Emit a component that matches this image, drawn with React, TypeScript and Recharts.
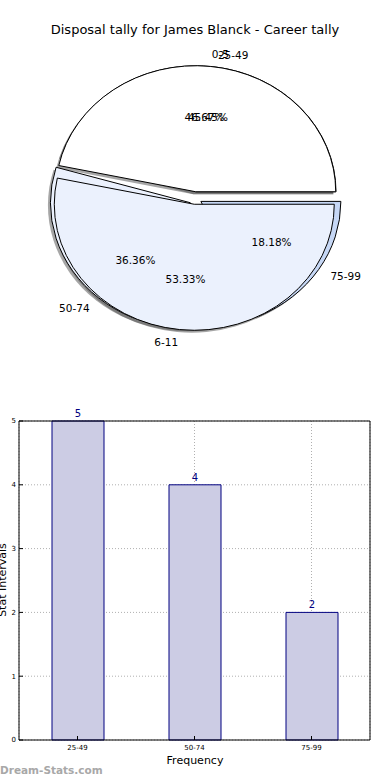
import React from 'react';
import { PieChart, Pie, Cell, BarChart, Bar, XAxis, YAxis, CartesianGrid, LabelList } from 'recharts';

// two tallies share the one pie, the second one is also the bar chart
const innerRanges = ['0-5', '6-11'];
const innerCounts = [7, 8];
const outerRanges = ['25-49', '50-74', '75-99'];
const outerCounts = [5, 4, 2];
const yTicks = [0, 1, 2, 3, 4, 5];

const innerColors = ['#ffffff', '#ebf1fd'];
const outerColors = ['#ffffff', '#ebf1fd', '#c6d7f5'];

const innerData = innerRanges.map((range, i) => ({ range, count: innerCounts[i] }));
const outerData = outerRanges.map((range, i) => ({ range, count: outerCounts[i] }));

const FONT = '"DejaVu Sans", sans-serif';
const CX = 195;
const CY = 198;
const RX = 140;
const RY = 126;
const EXPLODE = 0.05;
const RAD = Math.PI / 180;

// matplotlib squashes the pie into an ellipse, so draw the wedges ourselves
const wedgePath = (cx: number, cy: number, start: number, end: number, mid: number) => {
  const ox = cx + EXPLODE * RX * Math.cos(mid * RAD);
  const oy = cy - EXPLODE * RY * Math.sin(mid * RAD);
  const x1 = ox + RX * Math.cos(start * RAD);
  const y1 = oy - RY * Math.sin(start * RAD);
  const x2 = ox + RX * Math.cos(end * RAD);
  const y2 = oy - RY * Math.sin(end * RAD);
  const large = Math.abs(end - start) > 180 ? 1 : 0;
  return `M${ox},${oy} L${x1},${y1} A${RX},${RY} 0 ${large} 0 ${x2},${y2} Z`;
};

const WedgeShape = (props: any) => (
  <path
    d={wedgePath(props.cx, props.cy, props.startAngle, props.endAngle, props.midAngle)}
    fill={props.fill}
    stroke="#000"
    strokeWidth={1}
  />
);

const ShadowShape = (props: any) => (
  <path
    d={wedgePath(props.cx, props.cy, props.startAngle, props.endAngle, props.midAngle)}
    transform="translate(-2.5, 2.5)"
    fill="#4d4d4d"
    fillOpacity={0.5}
    stroke="none"
  />
);

const EmptyShape = () => <g />;

const renderLabel = (p: any) => {
  const m = p.midAngle * RAD;
  const ox = CX + EXPLODE * RX * Math.cos(m);
  const oy = CY - EXPLODE * RY * Math.sin(m);
  const lx = ox + 1.1 * RX * Math.cos(m);
  const ly = oy - 1.1 * RY * Math.sin(m);
  const px = ox + 0.6 * RX * Math.cos(m);
  const py = oy - 0.6 * RY * Math.sin(m);
  return (
    <g>
      <text x={lx} y={ly} textAnchor={Math.cos(m) > 0 ? 'start' : 'end'} dominantBaseline="central"
        fontFamily={FONT} fontSize={10.5} fill="#000">{p.name}</text>
      <text x={px} y={py} textAnchor="middle" dominantBaseline="central"
        fontFamily={FONT} fontSize={10.5} fill="#000">{(p.percent * 100).toFixed(2)}%</text>
    </g>
  );
};

const TallyPie = () => (
  <PieChart width={390} height={390} margin={{ top: 0, right: 0, bottom: 0, left: 0 }}>
    <Pie data={outerData} dataKey="count" nameKey="range" cx={CX} cy={CY} outerRadius={RX}
      startAngle={0} endAngle={360} shape={ShadowShape} stroke="none" isAnimationActive={false} />
    <Pie data={innerData} dataKey="count" nameKey="range" cx={CX} cy={CY} outerRadius={RX}
      startAngle={0} endAngle={360} shape={ShadowShape} stroke="none" isAnimationActive={false} />
    <Pie data={outerData} dataKey="count" nameKey="range" cx={CX} cy={CY} outerRadius={RX}
      startAngle={0} endAngle={360} shape={WedgeShape} isAnimationActive={false}>
      {outerData.map((d, i) => <Cell key={d.range} fill={outerColors[i]} />)}
    </Pie>
    <Pie data={innerData} dataKey="count" nameKey="range" cx={CX} cy={CY} outerRadius={RX}
      startAngle={0} endAngle={360} shape={WedgeShape} isAnimationActive={false}
      label={renderLabel} labelLine={false}>
      {innerData.map((d, i) => <Cell key={d.range} fill={innerColors[i]} />)}
    </Pie>
    <Pie data={outerData} dataKey="count" nameKey="range" cx={CX} cy={CY} outerRadius={RX}
      startAngle={0} endAngle={360} shape={EmptyShape} isAnimationActive={false}
      label={renderLabel} labelLine={false} />
  </PieChart>
);

const axisTick = { fontSize: 7, fill: '#000', fontFamily: FONT };
const axisLine = { stroke: '#000', strokeWidth: 1 };

const TallyBars = () => (
  <BarChart width={390} height={380} data={outerData} barSize={52}
    margin={{ top: 20, right: 19, bottom: 0, left: 0 }}>
    <XAxis dataKey="range" height={40} tick={axisTick} tickSize={-4} tickMargin={9}
      axisLine={axisLine} tickLine={axisLine} />
    <XAxis xAxisId="top" dataKey="range" orientation="top" height={1} tick={false} tickSize={-4}
      axisLine={axisLine} tickLine={axisLine} />
    <YAxis domain={[0, 5]} ticks={yTicks} width={19} tick={axisTick} tickSize={-4} tickMargin={7}
      axisLine={axisLine} tickLine={axisLine} />
    <YAxis yAxisId="right" orientation="right" domain={[0, 5]} ticks={yTicks} width={1} tick={false}
      tickSize={-4} axisLine={axisLine} tickLine={axisLine} />
    <Bar dataKey="count" fill="#cccce4" stroke="#000080" strokeWidth={1} isAnimationActive={false}>
      <LabelList dataKey="count" position="top" offset={4} fill="#000080" fontSize={10} fontFamily={FONT} />
    </Bar>
    <CartesianGrid strokeDasharray="1 2" stroke="#b0b0b0" />
  </BarChart>
);

export default function App() {
  return (
    <div style={{ position: 'absolute', left: 0, top: 0, width: 390, height: 780, background: '#fff', fontFamily: FONT, overflow: 'hidden' }}>
      <div style={{ position: 'absolute', left: 0, top: 22, width: 390, textAlign: 'center', fontSize: 13, lineHeight: '16px', color: '#000' }}>
        Disposal tally for James Blanck - Career tally
      </div>
      <div style={{ position: 'absolute', left: 0, top: 0 }}>
        <TallyPie />
      </div>
      <div style={{ position: 'absolute', left: 0, top: 400 }}>
        <TallyBars />
      </div>
      <div style={{ position: 'absolute', left: 0, top: 754, width: 390, textAlign: 'center', fontSize: 11, lineHeight: '14px', color: '#000' }}>
        Frequency
      </div>
      <div style={{ position: 'absolute', left: 3, top: 580, width: 0, height: 0 }}>
        <div style={{ position: 'absolute', left: -60, top: -7, width: 120, textAlign: 'center', fontSize: 11, lineHeight: '14px', color: '#000', transform: 'rotate(-90deg)', transformOrigin: '60px 7px' }}>
          Stat Intervals
        </div>
      </div>
      <div style={{ position: 'absolute', left: 0, top: 763, fontSize: 10.5, lineHeight: '14px', fontWeight: 'bold', color: '#a8a8a8' }}>
        Dream-Stats.com
      </div>
    </div>
  );
}
